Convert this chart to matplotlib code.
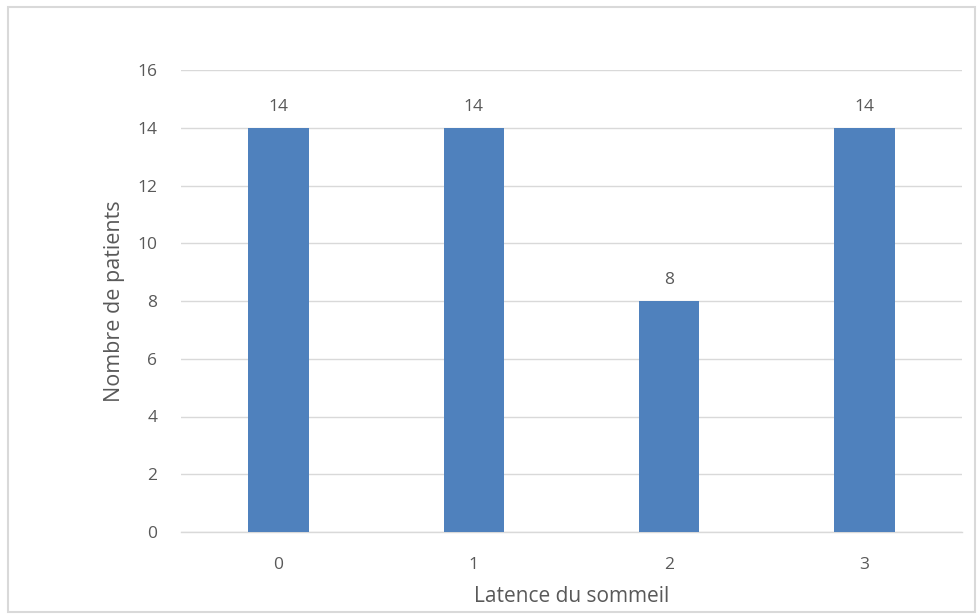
import matplotlib
matplotlib.use("Agg")
import matplotlib.pyplot as plt
from matplotlib.patches import Rectangle

categories = ["0", "1", "2", "3"]
values = [14, 14, 8, 14]
yticks = [0, 2, 4, 6, 8, 10, 12, 14, 16]

plt.rcParams['font.family'] = ['Open Sans', 'DejaVu Sans']
W, H = 979, 616
fig = plt.figure(figsize=(W / 100, H / 100), dpi=100)
ax = fig.add_axes([181 / W, 1 - 532 / H, (962 - 181) / W, (532 - 70) / H])

text_color = "#595959"
ax.bar(range(len(categories)), values, width=0.31, color="#4F81BD", zorder=3)
for i, v in enumerate(values):
    ax.text(i, v + 0.45, str(v), ha="center", va="bottom", fontsize=12.5, color=text_color)

ax.set_xlim(-0.5, len(categories) - 0.5)
ax.set_ylim(0, 16)
ax.set_yticks(yticks)
ax.set_xticks(range(len(categories)))
ax.set_xticklabels(categories)
ax.grid(axis="y", color="#D9D9D9", linewidth=1, zorder=0)
for s in ["top", "right", "left"]:
    ax.spines[s].set_visible(False)
ax.spines["bottom"].set_color("#D9D9D9")
ax.spines["bottom"].set_linewidth(1)
ax.tick_params(axis="both", length=0, labelsize=12.5, colors=text_color)
ax.tick_params(axis="y", pad=17)
ax.tick_params(axis="x", pad=18)
ax.set_ylabel("Nombre de patients", fontsize=15.5, color=text_color, labelpad=9)
ax.set_xlabel("Latence du sommeil", fontsize=15, color=text_color, labelpad=9)

fig.patches.append(Rectangle((8 / W, 1 - 612 / H), (975 - 8) / W, (612 - 7) / H,
                             transform=fig.transFigure, fill=False,
                             edgecolor="#D9D9D9", linewidth=1.5))
fig.savefig("out.png", dpi=100)
